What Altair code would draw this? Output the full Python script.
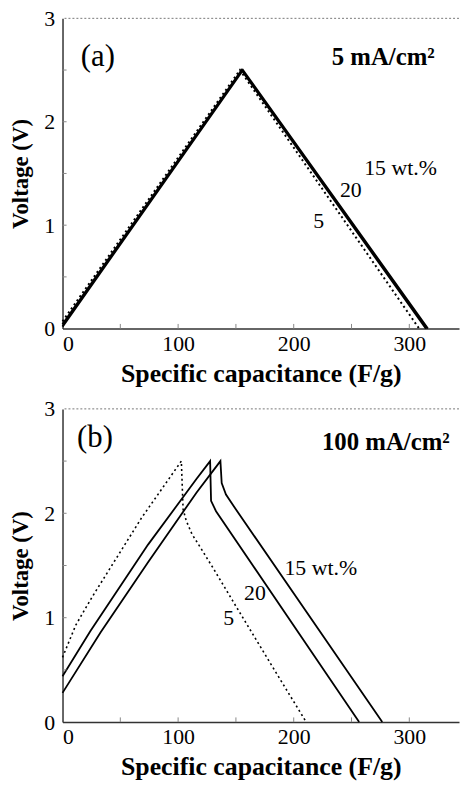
import altair as alt
import pandas as pd

# ---------- data ----------
# Panel (a): 5 mA/cm2
a15_x = [0, 156, 316]
a15_v = [0.02, 2.5, 0]
a20_x = [0, 155, 314.5]
a20_v = [0.04, 2.5, 0]
a5_x = [0, 153.5, 308.5]
a5_v = [0.07, 2.5, 0]

# Panel (b): 100 mA/cm2
b15_x = [0, 33, 74, 116, 136.6, 137.7, 141.4, 148.6, 276.6]
b15_v = [0.28, 0.86, 1.53, 2.2, 2.5, 2.29, 2.18, 2.06, 0]
b20_x = [0, 24, 74, 116, 127.7, 128.5, 132.8, 256.6]
b20_v = [0.44, 0.87, 1.7, 2.33, 2.5, 2.12, 2.02, 0]
b5_x = [0, 11.5, 25.7, 68.6, 102.8, 104.3, 107, 112, 120, 130, 150, 180, 210.8]
b5_v = [0.62, 0.93, 1.2, 1.96, 2.5, 2.04, 1.93, 1.8, 1.66, 1.48, 1.11, 0.56, 0]

# annotations
a_labels = ["15 wt.%", "20", "5"]
a_label_x = [261, 240, 217]
a_label_y = [1.55, 1.34, 1.04]
b_labels = ["15 wt.%", "20", "5"]
b_label_x = [192, 157, 139]
b_label_y = [1.48, 1.24, 1.0]

panel_tags = ["(a)", "(b)"]
tag_x = [15.8, 12.6]
tag_y = [2.63, 2.72]
currents = ["5 mA/cm²", "100 mA/cm²"]
current_x = [322, 335]
current_y = [2.63, 2.68]

x_ticks = [0, 100, 200, 300]
x_minor = [50, 100, 150, 200, 250, 300]
y_ticks = [0, 1, 2, 3]
y_minor = [0.5, 1, 1.5, 2, 2.5]

X_MAX = 343
FONT = "Liberation Serif"


def series_df(xs, vs, name):
    return pd.DataFrame({"cap": xs, "volt": vs, "series": name, "i": range(len(xs))})


def panel(solid_sets, dotted_set, labels, lx, ly, tag, tx, ty, cur, cx, cy, h, solid_w, dot_w):
    xs = alt.Scale(domain=[0, X_MAX], nice=False, zero=False)
    ys = alt.Scale(domain=[0, 3], nice=False)
    xax = alt.Axis(values=x_ticks, format="d", title="Specific capacitance (F/g)", ticks=False,
                   labelPadding=5, titlePadding=6, grid=False)
    yax = alt.Axis(values=y_ticks, format="d", title="Voltage (V)", ticks=False,
                   labelPadding=8, titlePadding=11, grid=False)

    def X(f):
        return alt.X(f, scale=xs, axis=xax)

    def Y(f):
        return alt.Y(f, scale=ys, axis=yax)

    solid_df = pd.concat([series_df(x, v, n) for (x, v, n) in solid_sets])
    dotted_df = series_df(dotted_set[0], dotted_set[1], dotted_set[2])

    solid = alt.Chart(solid_df).mark_line(color="black", strokeWidth=solid_w).encode(
        x=X("cap:Q"), y=Y("volt:Q"), detail="series:N", order="i:Q",
    )
    dotted = alt.Chart(dotted_df).mark_line(color="black", strokeWidth=dot_w,
                                            strokeDash=[2, 3]).encode(
        x=X("cap:Q"), y=Y("volt:Q"), order="i:Q",
    )
    top = alt.Chart(pd.DataFrame({"v": [3]})).mark_rule(
        color="#777", strokeDash=[2, 2], strokeWidth=1).encode(y=Y("v:Q"))

    xt = alt.Chart(pd.DataFrame({"t": x_minor, "y0": 0, "y1": 0.045})).mark_rule(
        color="#888", strokeWidth=1).encode(x=X("t:Q"), y=Y("y0:Q"), y2="y1:Q")
    yt = alt.Chart(pd.DataFrame({"t": y_minor, "x0": 0, "x1": 3.5})).mark_rule(
        color="#888", strokeWidth=1).encode(y=Y("t:Q"), x=X("x0:Q"), x2="x1:Q")

    lab_df = pd.DataFrame({"t": labels, "x": lx, "y": ly})
    labs = alt.Chart(lab_df).mark_text(font=FONT, fontSize=22, align="left",
                                       baseline="middle", color="black").encode(
        x=X("x:Q"), y=Y("y:Q"), text="t:N")
    tag_c = alt.Chart(pd.DataFrame({"t": [tag], "x": [tx], "y": [ty]})).mark_text(
        font=FONT, fontSize=31, align="left", baseline="middle", color="black").encode(
        x=X("x:Q"), y=Y("y:Q"), text="t:N")
    cur_c = alt.Chart(pd.DataFrame({"t": [cur], "x": [cx], "y": [cy]})).mark_text(
        font=FONT, fontSize=25, fontWeight="bold", align="right", baseline="middle",
        color="black").encode(
        x=X("x:Q"), y=Y("y:Q"), text="t:N")

    return alt.layer(solid, top, xt, yt, dotted, labs, tag_c, cur_c).properties(width=400, height=h)


pa = panel([(a15_x, a15_v, "15"), (a20_x, a20_v, "20")], (a5_x, a5_v, "5"),
           a_labels, a_label_x, a_label_y, panel_tags[0], tag_x[0], tag_y[0],
           currents[0], current_x[0], current_y[0], 313, 2.2, 2.0)
pb = panel([(b15_x, b15_v, "15"), (b20_x, b20_v, "20")], (b5_x, b5_v, "5"),
           b_labels, b_label_x, b_label_y, panel_tags[1], tag_x[1], tag_y[1],
           currents[1], current_x[1], current_y[1], 316, 1.8, 1.6)

chart = alt.vconcat(pa, pb, spacing=12).properties(
    padding={"left": 2, "top": -4, "right": 0, "bottom": 0},
    background="white",
).configure_view(stroke=None).configure_axis(
    labelFont=FONT, labelFontSize=22, labelColor="black",
    titleFont=FONT, titleFontSize=26, titleFontWeight="bold", titleColor="black",
    domainColor="#333", domainWidth=1.5,
).configure_axisY(titleFontSize=23)

chart.save("out.html", embed_options={"renderer": "svg", "actions": False})
